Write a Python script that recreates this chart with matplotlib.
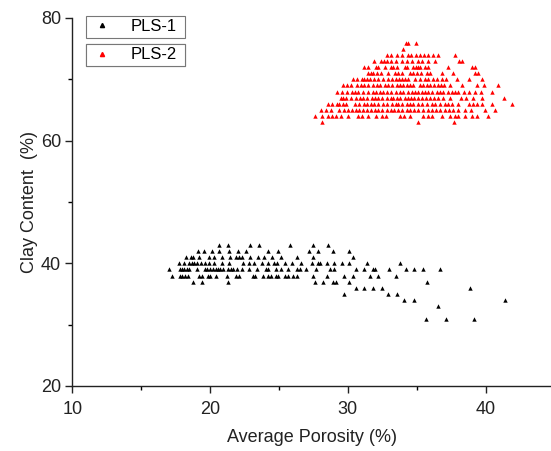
import matplotlib
matplotlib.use("Agg")
import matplotlib.pyplot as plt
from matplotlib.ticker import MultipleLocator
from matplotlib.lines import Line2D

plt.rcParams['font.family'] = ['Liberation Sans', 'DejaVu Sans']

# clay content levels (%) and the average porosity (%) of the points on each level
pls1_clay = [43, 42, 41, 40, 39, 38, 37, 36, 35, 34, 33, 31]
pls1_porosity = [
    [20.64, 21.27, 22.89, 23.55, 25.80, 27.49, 28.58],
    [19.10, 19.58, 20.11, 20.64, 21.40, 22.00, 22.60, 24.23, 24.90, 27.18, 27.81, 28.94, 30.08],
    [18.25, 18.61, 18.78, 19.22, 19.94, 20.31, 20.84, 21.44, 21.88, 22.10, 22.29, 22.89, 23.45,
     23.93, 24.47, 25.12, 26.33, 27.49, 30.39],
    [17.77, 18.13, 18.49, 18.66, 18.86, 19.02, 19.31, 19.63, 19.94, 20.31, 20.84, 21.37, 22.41,
     22.85, 23.21, 23.79, 24.23, 24.66, 24.83, 25.44, 25.97, 26.60, 27.42, 27.85, 27.98, 28.46,
     29.02, 29.55, 30.08, 31.41, 33.78],
    [17.04, 17.81, 17.94, 18.11, 18.30, 18.49, 19.02, 19.63, 19.75, 19.99, 20.23, 20.43, 20.60,
     20.72, 20.91, 21.32, 21.49, 21.64, 21.93, 22.29, 22.85, 23.38, 24.06, 24.23, 24.78, 25.12,
     25.68, 26.33, 26.52, 26.94, 27.69, 28.70, 29.02, 30.59, 31.19, 31.85, 31.97, 33.01, 34.19,
     34.80, 35.47, 36.68],
    [17.26, 17.81, 17.98, 18.18, 18.37, 19.19, 19.39, 19.82, 19.99, 20.43, 21.20, 21.88, 22.10,
     23.09, 23.26, 23.81, 24.18, 24.42, 24.78, 24.95, 25.44, 25.63, 26.04, 26.33, 27.49, 28.51,
     29.72, 30.39, 31.60, 32.21, 33.49],
    [18.78, 19.44, 21.32, 27.61, 28.22, 28.89, 29.14, 30.08, 35.76],
    [30.59, 31.19, 31.80, 32.45, 38.86],
    [29.72, 32.93, 33.59],
    [34.10, 34.80, 41.40],
    [36.56],
    [35.67, 37.10, 39.18],
]

pls2_clay = [76, 75, 74, 73, 72, 71, 70, 69, 68, 67, 66, 65, 64, 63]
pls2_porosity = [
    [34.22, 34.39, 34.92],
    [33.97],
    [32.81, 33.13, 33.54, 33.95, 34.39, 34.58, 34.92, 35.23, 35.55, 35.79, 36.20, 36.51, 37.77],
    [31.92, 32.40, 32.60, 32.81, 33.13, 33.49, 33.90, 34.31, 34.68, 35.06, 35.35, 35.79, 36.32,
     38.09, 38.26],
    [31.17, 31.48, 32.04, 32.21, 32.69, 33.10, 33.30, 33.54, 34.14, 34.31, 34.75, 34.92, 35.06,
     35.23, 35.60, 35.84, 37.29, 38.98, 39.22],
    [31.48, 31.68, 31.85, 32.14, 32.40, 32.93, 33.42, 33.66, 33.95, 34.51, 34.75, 34.99, 35.30,
     35.72, 35.96, 36.81, 37.65, 39.22, 39.47],
    [30.39, 30.64, 31.00, 31.19, 31.36, 31.60, 31.89, 32.21, 32.52, 32.89, 33.18, 33.47, 33.71,
     33.90, 34.14, 34.39, 34.87, 35.23, 35.60, 35.84, 36.15, 36.44, 36.81, 37.12, 37.89, 38.79,
     39.76],
    [29.62, 29.91, 30.22, 30.64, 30.95, 31.19, 31.48, 31.85, 32.09, 32.33, 32.69, 32.93, 33.22,
     33.54, 33.78, 34.02, 34.26, 34.51, 34.75, 35.23, 35.47, 35.72, 35.96, 36.27, 36.51, 36.76,
     37.00, 37.41, 38.26, 39.35, 39.90, 40.90],
    [29.23, 29.55, 29.91, 30.27, 30.51, 30.76, 31.12, 31.48, 31.85, 32.04, 32.33, 32.57, 32.81,
     33.13, 33.47, 33.78, 34.02, 34.39, 34.63, 34.87, 35.11, 35.35, 35.60, 35.84, 36.13, 36.44,
     36.68, 36.93, 37.29, 37.53, 37.77, 38.01, 38.43, 38.79, 39.22, 39.66, 40.43],
    [29.50, 29.67, 29.86, 30.22, 30.59, 30.88, 31.12, 31.36, 31.72, 31.97, 32.21, 32.50, 32.81,
     33.13, 33.30, 33.54, 33.78, 34.14, 34.34, 34.58, 34.82, 35.06, 35.35, 35.64, 35.96, 36.27,
     36.56, 36.93, 37.41, 38.21, 38.57, 39.10, 39.76, 41.30],
    [28.53, 28.82, 29.18, 29.38, 29.62, 29.86, 30.51, 30.83, 31.17, 31.36, 31.65, 31.92, 32.21,
     32.57, 32.86, 33.18, 33.47, 33.66, 33.95, 34.26, 34.51, 34.75, 35.11, 35.35, 35.72, 36.08,
     36.32, 36.68, 37.05, 37.29, 37.53, 37.97, 38.79, 39.05, 39.35, 39.76, 40.43, 41.90],
    [28.05, 28.39, 28.77, 29.38, 29.74, 29.98, 30.32, 30.59, 30.83, 31.12, 31.36, 31.68, 31.97,
     32.21, 32.50, 32.81, 33.13, 33.37, 33.66, 33.95, 34.26, 34.51, 34.82, 35.06, 35.47, 35.79,
     36.08, 36.37, 36.68, 37.05, 37.34, 37.65, 38.01, 38.50, 38.93, 39.95, 40.67],
    [27.61, 28.14, 28.53, 28.87, 29.14, 29.50, 29.98, 30.76, 31.00, 31.48, 32.04, 32.45, 32.74,
     33.78, 34.10, 34.51, 35.47, 35.84, 36.13, 36.81, 37.41, 37.77, 38.01, 38.50, 38.98, 39.35,
     40.19],
    [28.10, 35.11, 37.72],
]

series_names = ["PLS-1", "PLS-2"]
series_colors = ["black", "red"]


def flatten(levels, rows):
    xs, ys = [], []
    for lev, row in zip(levels, rows):
        xs += row
        ys += [lev] * len(row)
    return xs, ys


fig = plt.figure(figsize=(5.51, 4.51), dpi=100)
ax = fig.add_axes([72.3 / 551, 65 / 451, 478.7 / 551, 368 / 451])

for (levels, rows), color in zip([(pls1_clay, pls1_porosity), (pls2_clay, pls2_porosity)], series_colors):
    xs, ys = flatten(levels, rows)
    ax.scatter(xs, ys, marker="^", s=10, color=color, linewidths=0, clip_on=False)

ax.set_xlim(10, 10 + 478.7 / 13.78)
ax.set_ylim(20, 80)
ax.xaxis.set_major_locator(MultipleLocator(10))
ax.xaxis.set_minor_locator(MultipleLocator(5))
ax.yaxis.set_major_locator(MultipleLocator(20))
ax.yaxis.set_minor_locator(MultipleLocator(10))
ax.tick_params(which="major", direction="out", length=5, width=1, labelsize=13, colors="#222222")
ax.tick_params(axis="x", which="major", pad=6)
ax.tick_params(axis="y", which="major", pad=3)
ax.tick_params(which="minor", direction="out", length=3, width=1)
for side in ["top", "right"]:
    ax.spines[side].set_visible(False)
for side in ["left", "bottom"]:
    ax.spines[side].set_color("#222222")
    ax.spines[side].set_linewidth(1)

ax.set_xlabel("Average Porosity (%)", fontsize=13, labelpad=8, color="#222222")
ax.set_ylabel("Clay Content  (%)", fontsize=13, labelpad=2, color="#222222")

# one framed box per series, as in the original
box_w = 99 / 478.7
box_h = 23 / 368
for i, (name, color) in enumerate(zip(series_names, series_colors)):
    handle = Line2D([], [], marker="^", linestyle="none", color=color, markersize=3)
    y0 = (386 - 39 - i * 28) / 368
    leg = ax.legend([handle], [name], loc="upper left", mode="expand",
                    bbox_to_anchor=(13.7 / 478.7, y0, box_w, box_h), borderaxespad=0,
                    fontsize=12, frameon=True, fancybox=False, edgecolor="#777777",
                    framealpha=1, handlelength=1.5, handletextpad=1.0, borderpad=0.2)
    leg.get_frame().set_linewidth(0.8)
    ax.add_artist(leg)

fig.savefig("out.png", dpi=100)
